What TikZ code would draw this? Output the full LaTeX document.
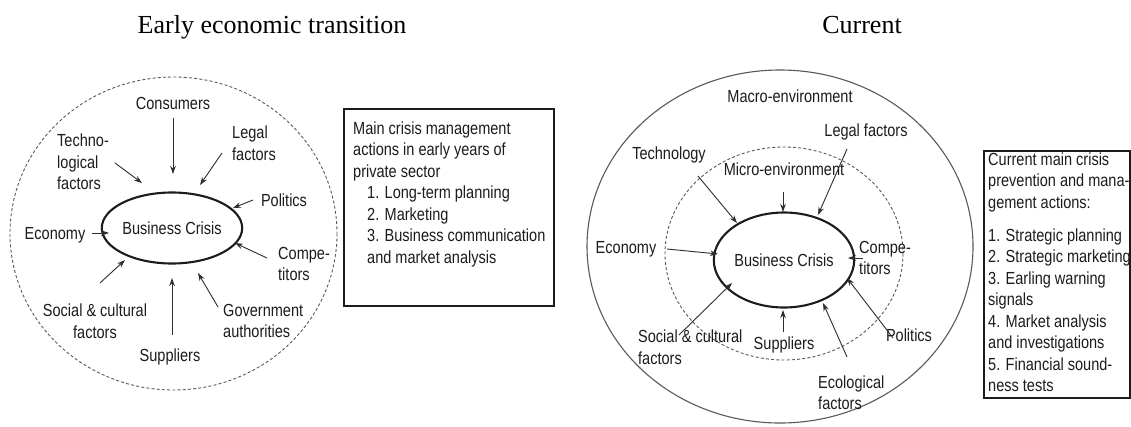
\documentclass[tikz,border=0pt]{standalone}
\usepackage{fontspec}
\setmainfont{Liberation Sans}[FakeStretch=0.83]
\newfontfamily\titlefont{Liberation Serif}
\usetikzlibrary{shapes.geometric,arrows.meta}

\definecolor{ink}{HTML}{1C1C1C}
\definecolor{wire}{HTML}{2E2E2E}
\definecolor{ring}{HTML}{5A5A5A}

\begin{document}
\begin{tikzpicture}[x=1pt,y=-1pt,
  lbl/.style={font=\fontsize{17.5}{21.5}\selectfont, text=ink, inner sep=0pt},
  one/.style={lbl, text height=12.6pt, text depth=0pt},
  multi/.style={lbl, align=left, anchor=west},
  title/.style={font=\titlefont\fontsize{26}{30}\selectfont, text=black, inner sep=0pt, anchor=base},
  crisis/.style={one, draw=ink, line width=2.1pt, ellipse},
  influence/.style={draw=wire, line width=0.9pt, -{Stealth[length=8pt,width=5.5pt]}},
  env/.style={draw=ring, line width=0.9pt, dash pattern=on 3pt off 2.2pt},
  actionbox/.style={draw=ink, line width=1.8pt, inner sep=0pt, anchor=north west}
]
\fill[white] (0,0) rectangle (1131,426);
\useasboundingbox (0,0) rectangle (1131,426);

% ---------- titles ----------
\node[title] (titleL) at (272,33) {Early economic transition};
\node[title] (titleR) at (862,33) {Current};

% ---------- early economic transition ----------
\draw[env] (173.5,233.5) ellipse (163.5 and 156.5);
\node[crisis, minimum width=118pt, minimum height=71pt] (bcL) at (172,228) {Business Crisis};

\node[one] (consL) at (173,103) {Consumers};
\node[multi] (legalL) at (232,143) {Legal\\factors};
\node[multi] (techL) at (57,162) {Techno-\\logical\\factors};
\node[one] (polL) at (284,200) {Politics};
\node[one] (ecoL) at (55,233) {Economy};
\node[multi] (compL) at (278,264) {Compe-\\titors};
\node[multi] (govL) at (223,321) {Government\\authorities};
\node[one] (supL) at (170,355) {Suppliers};
\node[lbl, align=center] (socL) at (95,321) {Social \& cultural\\factors};

\coordinate (consLs) at (173,118);  \coordinate (consLe) at (173,174);
\coordinate (legalLs) at (222,153); \coordinate (legalLe) at (200,185);
\coordinate (techLs) at (115,163);  \coordinate (techLe) at (142,183);
\coordinate (polLs) at (253,200);   \coordinate (polLe) at (233,208);
\coordinate (ecoLs) at (92,233);    \coordinate (ecoLe) at (109,233);
\coordinate (compLs) at (267,258);  \coordinate (compLe) at (235,243);
\coordinate (govLs) at (218,307);   \coordinate (govLe) at (198,273);
\coordinate (supLs) at (172,335);   \coordinate (supLe) at (172,278);
\coordinate (socLs) at (100,283);   \coordinate (socLe) at (125,260);

\foreach \f in {consL,legalL,techL,polL,ecoL,compL,govL,supL,socL}
  \draw[influence] (\f s) -- (\f e);

\node[actionbox, minimum width=210pt, minimum height=197pt] (boxL) at (343,108) {};
\node[multi] (textL) at (353,194) {Main crisis management\\
actions in early years of\\
private sector\\
\hspace*{14pt}1. Long-term planning\\
\hspace*{14pt}2. Marketing\\
\hspace*{14pt}3. Business communication\\
\hspace*{14pt}and market analysis};

% ---------- current ----------
\draw[draw=ring, line width=1.1pt] (780,246.5) ellipse (193 and 176.5);
\draw[env] (784,253.5) ellipse (119 and 106.5);
\node[crisis, minimum width=122pt, minimum height=95pt] (bcR) at (784,260) {Business Crisis};

\node[one] (macroR) at (790,96) {Macro-environment};
\node[one] (legalR) at (866,130) {Legal factors};
\node[one] (techR) at (669,153) {Technology};
\node[one] (microR) at (784,169) {Micro-environment};
\node[one] (ecoR) at (626,247) {Economy};
\node[multi] (compR) at (859,258) {Compe-\\titors};
\node[one] (polR) at (909,335) {Politics};
\node[multi] (ecolR) at (818,392.5) {Ecological\\factors};
\node[one] (supR) at (784,343) {Suppliers};
\node[multi] (socR) at (638,347) {Social \& cultural\\factors};

\coordinate (legalRs) at (847,149); \coordinate (legalRe) at (818,215);
\coordinate (techRs) at (698,176);  \coordinate (techRe) at (737,223);
\coordinate (microRs) at (783,192); \coordinate (microRe) at (783,212);
\coordinate (ecoRs) at (667,249);   \coordinate (ecoRe) at (718,254);
\coordinate (compRs) at (863,258);  \coordinate (compRe) at (848,258);
\coordinate (polRs) at (893,338);   \coordinate (polRe) at (847,278);
\coordinate (ecolRs) at (847,357);  \coordinate (ecolRe) at (823,303);
\coordinate (supRs) at (783,332);   \coordinate (supRe) at (783,310);
\coordinate (socRs) at (679,335);   \coordinate (socRe) at (732,283);

\foreach \f in {legalR,techR,microR,ecoR,compR,polR,ecolR,supR,socR}
  \draw[influence] (\f s) -- (\f e);

\node[actionbox, minimum width=146pt, minimum height=247pt] (boxR) at (983,150) {};
\node[multi] (textR) at (988,272) {Current main crisis\\
prevention and mana-\\
gement actions:\\[11.5pt]
1. Strategic planning\\
2. Strategic marketing\\
3. Earling warning\\
signals\\
4. Market analysis\\
and investigations\\
5. Financial sound-\\
ness tests};
\end{tikzpicture}
\end{document}
